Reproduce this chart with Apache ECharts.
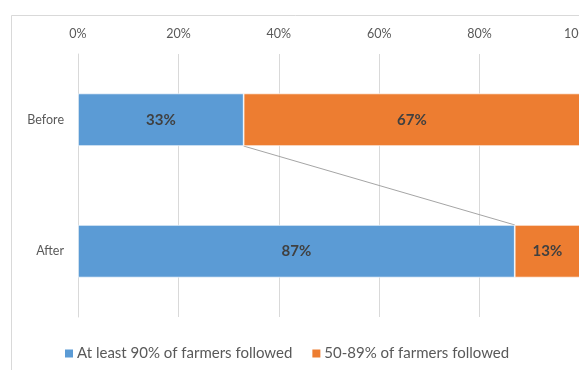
<!DOCTYPE html>
<html>
<head>
<meta charset="utf-8">
<script src="https://cdn.jsdelivr.net/npm/echarts@6/dist/echarts.min.js"></script>
<style>
  html, body { margin: 0; padding: 0; background: #fff; }
  #chart { width: 579px; height: 370px; }
</style>
</head>
<body>
<div id="chart"></div>
<script>
// Share of fields, before and after, grouped by how many farmers followed the practice
const categories = ['Before', 'After'];
const seriesNames = ['At least 90% of farmers followed', '50-89% of farmers followed'];
const atLeast90 = [33, 87];
const from50to89 = [67, 13];
const xTicks = [0, 20, 40, 60, 80, 100];

const FONT = 'Lato, "Open Sans", sans-serif';
const BAR_RATIO = 0.4;

const chart = echarts.init(document.getElementById('chart'), null, { renderer: 'canvas' });

const barLabel = {
  show: true,
  position: 'inside',
  formatter: p => p.value + '%',
  color: '#404040',
  fontWeight: 'bold',
  fontSize: 15,
  fontFamily: FONT
};

chart.setOption({
  animation: false,
  backgroundColor: '#fff',
  textStyle: { fontFamily: FONT },
  graphic: [{
    type: 'rect',
    shape: { x: 11.5, y: 15.5, width: 700, height: 500 },
    style: { fill: 'none', stroke: '#d9d9d9', lineWidth: 1 },
    silent: true,
    z: -10
  }],
  grid: { left: 78, right: -1, top: 54, bottom: 53, containLabel: false, outerBoundsMode: 'none' },
  xAxis: {
    type: 'value',
    position: 'top',
    min: xTicks[0],
    max: xTicks[xTicks.length - 1],
    interval: 20,
    axisLine: { show: false },
    axisTick: { show: false },
    axisLabel: {
      formatter: v => v + '%',
      color: '#595959',
      fontSize: 12.5,
      fontFamily: FONT,
      margin: 14,
      hideOverlap: false
    },
    splitLine: { show: true, lineStyle: { color: '#d9d9d9', width: 1 } }
  },
  yAxis: {
    type: 'category',
    data: categories,
    inverse: true,
    axisLine: { show: true, lineStyle: { color: '#d9d9d9', width: 1 } },
    axisTick: { show: false },
    axisLabel: { color: '#595959', fontSize: 12.5, fontFamily: FONT, margin: 14 }
  },
  legend: {
    left: 58,
    top: 341,
    itemWidth: 10,
    itemHeight: 10,
    itemGap: 18,
    icon: 'rect',
    textStyle: { color: '#595959', fontSize: 15, fontFamily: FONT, padding: [0, 0, 0, -2] },
    data: seriesNames
  },
  series: [
    {
      name: seriesNames[0],
      type: 'bar',
      stack: 'share',
      data: atLeast90,
      barCategoryGap: '60%',
      itemStyle: { color: '#5b9bd5', borderColor: '#fff', borderWidth: 0.7 },
      label: barLabel
    },
    {
      name: seriesNames[1],
      type: 'bar',
      stack: 'share',
      data: from50to89,
      barCategoryGap: '60%',
      itemStyle: { color: '#ed7d31', borderColor: '#fff', borderWidth: 0.7 },
      label: barLabel
    },
    {
      // line joining the end of the first segment across the two bars
      name: 'connector',
      type: 'custom',
      silent: true,
      z: 1,
      data: [[atLeast90[0], 0, atLeast90[1], 1]],
      renderItem: (params, api) => {
        const a = api.coord([api.value(0), api.value(1)]);
        const b = api.coord([api.value(2), api.value(3)]);
        const half = api.size([0, 1])[1] * BAR_RATIO / 2;
        return {
          type: 'line',
          shape: { x1: a[0], y1: a[1] + half, x2: b[0], y2: b[1] - half },
          style: { stroke: '#a5a5a5', lineWidth: 1 }
        };
      }
    }
  ]
});
</script>
</body>
</html>
